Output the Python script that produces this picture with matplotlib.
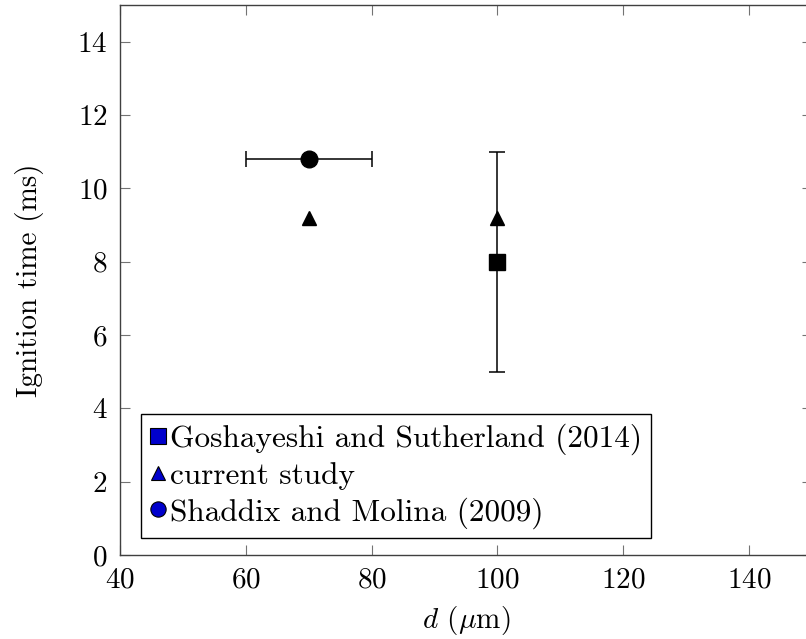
import matplotlib
matplotlib.use("Agg")
import matplotlib.pyplot as plt
from matplotlib.lines import Line2D

# Goshayeshi and Sutherland (2014)
gs_d = [100]
gs_t = [8.0]
gs_err = [3.0]

# current study
cur_d = [70, 100]
cur_t = [9.2, 9.2]

# Shaddix and Molina (2009)
sm_d = [70]
sm_t = [10.8]
sm_derr = [10]

labels = ["Goshayeshi and Sutherland (2014)", "current study", "Shaddix and Molina (2009)"]
xticks = [40, 60, 80, 100, 120, 140]
yticks = [0, 2, 4, 6, 8, 10, 12, 14]

plt.rcParams["font.family"] = "serif"
plt.rcParams["font.serif"] = ["cmr10"]
plt.rcParams["mathtext.fontset"] = "cm"
plt.rcParams["axes.unicode_minus"] = False
plt.rcParams["axes.formatter.use_mathtext"] = True

fs = 21
fig = plt.figure(figsize=(8.06, 6.39), dpi=100)
ax = fig.add_axes([0.1489, 0.1315, 0.8586, 0.8607])

ax.errorbar(gs_d, gs_t, yerr=gs_err, fmt="s", color="k", ms=12,
            elinewidth=1.1, capsize=5.8, capthick=1.1, zorder=3)
ax.plot(cur_d, cur_t, "^", color="k", ms=10.5, zorder=4)
ax.errorbar(sm_d, sm_t, xerr=sm_derr, fmt="o", color="k", ms=12,
            elinewidth=1.1, capsize=5.8, capthick=1.1, zorder=3)

ax.set_xlim(40, 150)
ax.set_ylim(0, 15)
ax.set_xticks(xticks)
ax.set_yticks(yticks)
ax.tick_params(direction="in", length=7.2, width=0.8, color="0.45",
               top=True, right=True, labelsize=fs, pad=9)
for sp in ax.spines.values():
    sp.set_color("0.25")
    sp.set_linewidth(1.0)

ax.set_xlabel(r"$d$ ($\mu$m)", fontsize=fs, labelpad=7)
ax.set_ylabel("Ignition time (ms)", fontsize=fs, labelpad=24)

# legend markers are blue, unlike the black data points
blue = "#0000cc"
handles = [
    Line2D([], [], ls="none", marker="s", ms=11, mfc=blue, mec="k", mew=0.8),
    Line2D([], [], ls="none", marker="^", ms=10, mfc=blue, mec="k", mew=0.8),
    Line2D([], [], ls="none", marker="o", ms=11, mfc=blue, mec="k", mew=0.8),
]
leg = ax.legend(handles, labels, loc="lower left", bbox_to_anchor=(0.03, 0.031),
                borderaxespad=0, fontsize=22.5, fancybox=False, framealpha=1,
                edgecolor="k", handlelength=0.5, handletextpad=0.12,
                borderpad=0.3, labelspacing=0.22)
leg.get_frame().set_linewidth(1.0)

fig.savefig("out.png", dpi=100)
